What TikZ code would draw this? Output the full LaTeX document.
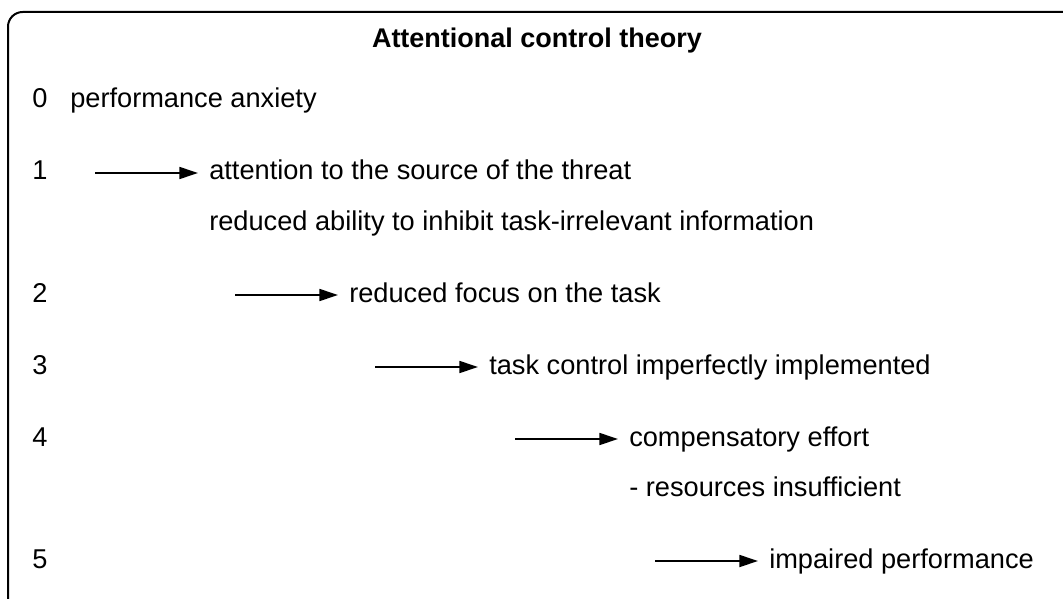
\documentclass[tikz,border=0pt]{standalone}
\usepackage{fontspec}
\setmainfont{Liberation Sans}
\usepackage{tikz}
\usetikzlibrary{arrows.meta,positioning}
\tikzset{
  frame/.style={draw, line width=1.5pt, rounded corners=11pt},
  numlabel/.style={inner sep=0pt, anchor=base},
  stepitem/.style={inner xsep=8.25pt, inner ysep=0pt, align=left,
                   text height=15pt, text depth=4.5pt},
  plainitem/.style={inner sep=0pt, anchor=base west},
  flowarrow/.style={-{Triangle[length=14pt, width=9pt]}, line width=1.3pt}
}

\begin{document}
\begin{tikzpicture}[x=0.75pt, y=-0.75pt,
  every node/.style={font=\fontsize{20.4}{24}\selectfont}]
  \clip (0,0) rectangle (1063,599);
  \draw[frame] (8,12) rectangle (1080,616);

  \node[font=\fontsize{20.25}{24}\selectfont\bfseries, numlabel] (title)
    at (537,48) {Attentional control theory};

  % step numbers
  \node[numlabel] (n0) at (40,108) {0};
  \node[numlabel] (n1) at (40,180) {1};
  \node[numlabel] (n2) at (40,302) {2};
  \node[numlabel] (n3) at (40,374) {3};
  \node[numlabel] (n4) at (40,446) {4};
  \node[numlabel] (n5) at (40,568) {5};

  \node[plainitem] (t0) at (70,108) {performance anxiety};

  % arrow starts
  \coordinate (a1) at (95,173);
  \coordinate (a2) at (235,295);
  \coordinate (a3) at (375,367);
  \coordinate (a4) at (515,439);
  \coordinate (a5) at (655,561);

  \node[stepitem, right=77.25pt of a1] (t1) {attention to the source of the threat};
  \node[stepitem, below=37.5pt of t1.west, anchor=west] (t1b)
    {reduced ability to inhibit task-irrelevant information};
  \node[stepitem, right=77.25pt of a2] (t2) {reduced focus on the task};
  \node[stepitem, right=77.25pt of a3] (t3) {task control imperfectly implemented};
  \node[stepitem, right=77.25pt of a4] (t4) {compensatory effort};
  \node[stepitem, below=37.5pt of t4.west, anchor=west] (t4b)
    {- resources insufficient};
  \node[stepitem, right=77.25pt of a5] (t5) {impaired performance};

  \draw[flowarrow] (a1) -- (t1.west);
  \draw[flowarrow] (a2) -- (t2.west);
  \draw[flowarrow] (a3) -- (t3.west);
  \draw[flowarrow] (a4) -- (t4.west);
  \draw[flowarrow] (a5) -- (t5.west);
\end{tikzpicture}
\end{document}
